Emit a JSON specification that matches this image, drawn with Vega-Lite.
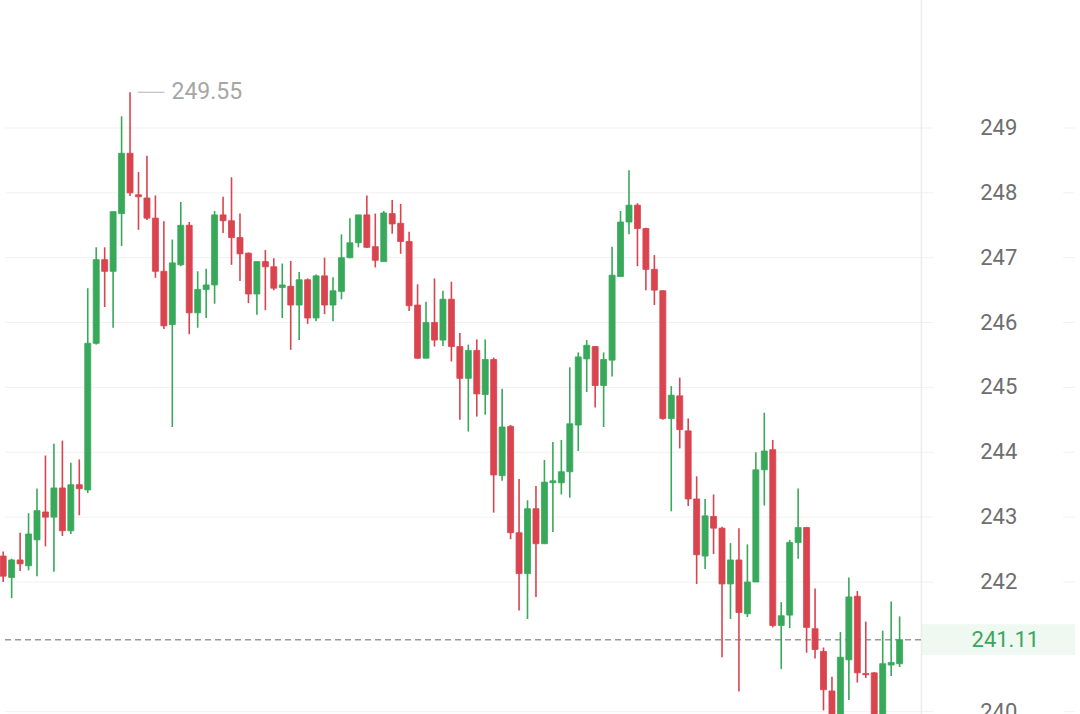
{
  "$schema": "https://vega.github.io/schema/vega-lite/v6.json",
  "width": 1080,
  "height": 714,
  "padding": 0,
  "autosize": {"type": "none"},
  "background": "white",
  "config": {"view": {"stroke": null}},
  "datasets": {
    "candles": [
      {"i":0,"o":242.40,"h":242.47,"l":242.00,"c":242.09},
      {"i":1,"o":242.07,"h":242.36,"l":241.75,"c":242.34},
      {"i":2,"o":242.34,"h":242.76,"l":242.17,"c":242.28},
      {"i":3,"o":242.25,"h":243.06,"l":242.18,"c":242.74},
      {"i":4,"o":242.65,"h":243.44,"l":242.09,"c":243.10},
      {"i":5,"o":243.08,"h":243.95,"l":242.55,"c":243.00},
      {"i":6,"o":243.00,"h":244.13,"l":242.16,"c":243.45},
      {"i":7,"o":243.45,"h":244.18,"l":242.71,"c":242.79},
      {"i":8,"o":242.79,"h":243.84,"l":242.74,"c":243.50},
      {"i":9,"o":243.50,"h":243.89,"l":243.03,"c":243.44},
      {"i":10,"o":243.42,"h":246.53,"l":243.37,"c":245.68},
      {"i":11,"o":245.68,"h":247.16,"l":245.66,"c":246.97},
      {"i":12,"o":246.97,"h":247.16,"l":246.24,"c":246.79},
      {"i":13,"o":246.79,"h":247.71,"l":245.92,"c":247.71},
      {"i":14,"o":247.68,"h":249.18,"l":247.18,"c":248.61},
      {"i":15,"o":248.61,"h":249.55,"l":247.95,"c":248.00},
      {"i":16,"o":247.97,"h":248.32,"l":247.43,"c":247.94},
      {"i":17,"o":247.92,"h":248.57,"l":247.58,"c":247.61},
      {"i":18,"o":247.61,"h":247.96,"l":246.69,"c":246.79},
      {"i":19,"o":246.79,"h":247.56,"l":245.90,"c":245.95},
      {"i":20,"o":245.97,"h":247.28,"l":244.39,"c":246.92},
      {"i":21,"o":246.89,"h":247.86,"l":246.87,"c":247.50},
      {"i":22,"o":247.50,"h":247.55,"l":245.82,"c":246.15},
      {"i":23,"o":246.15,"h":246.79,"l":245.92,"c":246.51},
      {"i":24,"o":246.51,"h":246.83,"l":246.07,"c":246.58},
      {"i":25,"o":246.58,"h":247.72,"l":246.29,"c":247.66},
      {"i":26,"o":247.66,"h":247.94,"l":247.38,"c":247.57},
      {"i":27,"o":247.57,"h":248.24,"l":246.89,"c":247.31},
      {"i":28,"o":247.31,"h":247.68,"l":246.64,"c":247.06},
      {"i":29,"o":247.07,"h":247.08,"l":246.30,"c":246.44},
      {"i":30,"o":246.44,"h":246.94,"l":246.12,"c":246.94},
      {"i":31,"o":246.94,"h":247.12,"l":246.19,"c":246.86},
      {"i":32,"o":246.86,"h":246.99,"l":246.50,"c":246.53},
      {"i":33,"o":246.54,"h":246.91,"l":246.07,"c":246.58},
      {"i":34,"o":246.56,"h":246.95,"l":245.58,"c":246.27},
      {"i":35,"o":246.27,"h":246.78,"l":245.73,"c":246.66},
      {"i":36,"o":246.66,"h":246.68,"l":245.98,"c":246.07},
      {"i":37,"o":246.07,"h":246.74,"l":246.02,"c":246.72},
      {"i":38,"o":246.72,"h":247.00,"l":246.13,"c":246.27},
      {"i":39,"o":246.27,"h":246.70,"l":246.02,"c":246.49},
      {"i":40,"o":246.48,"h":247.36,"l":246.36,"c":247.00},
      {"i":41,"o":247.00,"h":247.61,"l":246.99,"c":247.23},
      {"i":42,"o":247.23,"h":247.66,"l":247.16,"c":247.66},
      {"i":43,"o":247.66,"h":247.96,"l":247.15,"c":247.16},
      {"i":44,"o":247.17,"h":247.68,"l":246.85,"c":246.96},
      {"i":45,"o":246.94,"h":247.72,"l":246.94,"c":247.69},
      {"i":46,"o":247.68,"h":247.89,"l":247.37,"c":247.52},
      {"i":47,"o":247.53,"h":247.83,"l":247.06,"c":247.25},
      {"i":48,"o":247.25,"h":247.40,"l":246.18,"c":246.26},
      {"i":49,"o":246.27,"h":246.59,"l":245.44,"c":245.45},
      {"i":50,"o":245.45,"h":246.32,"l":245.45,"c":246.00},
      {"i":51,"o":246.00,"h":246.68,"l":245.63,"c":245.73},
      {"i":52,"o":245.73,"h":246.49,"l":245.64,"c":246.36},
      {"i":53,"o":246.36,"h":246.63,"l":245.40,"c":245.63},
      {"i":54,"o":245.63,"h":245.84,"l":244.50,"c":245.14},
      {"i":55,"o":245.14,"h":245.66,"l":244.32,"c":245.57},
      {"i":56,"o":245.57,"h":245.74,"l":244.55,"c":244.90},
      {"i":57,"o":244.89,"h":245.74,"l":244.58,"c":245.43},
      {"i":58,"o":245.43,"h":245.46,"l":243.07,"c":243.65},
      {"i":59,"o":243.64,"h":244.98,"l":243.56,"c":244.39},
      {"i":60,"o":244.40,"h":244.42,"l":242.66,"c":242.76},
      {"i":61,"o":242.76,"h":243.59,"l":241.56,"c":242.13},
      {"i":62,"o":242.13,"h":243.26,"l":241.43,"c":243.13},
      {"i":63,"o":243.13,"h":243.48,"l":241.77,"c":242.59},
      {"i":64,"o":242.59,"h":243.88,"l":242.59,"c":243.54},
      {"i":65,"o":243.53,"h":244.16,"l":242.77,"c":243.56},
      {"i":66,"o":243.53,"h":244.19,"l":243.35,"c":243.70},
      {"i":67,"o":243.70,"h":245.31,"l":243.30,"c":244.44},
      {"i":68,"o":244.42,"h":245.54,"l":244.02,"c":245.47},
      {"i":69,"o":245.44,"h":245.73,"l":244.93,"c":245.65},
      {"i":70,"o":245.63,"h":245.64,"l":244.69,"c":245.03},
      {"i":71,"o":245.03,"h":245.54,"l":244.39,"c":245.43},
      {"i":72,"o":245.42,"h":247.17,"l":245.17,"c":246.73},
      {"i":73,"o":246.71,"h":247.72,"l":246.71,"c":247.55},
      {"i":74,"o":247.55,"h":248.35,"l":247.36,"c":247.81},
      {"i":75,"o":247.81,"h":247.84,"l":246.87,"c":247.45},
      {"i":76,"o":247.45,"h":247.46,"l":246.50,"c":246.82},
      {"i":77,"o":246.82,"h":247.04,"l":246.27,"c":246.50},
      {"i":78,"o":246.49,"h":246.50,"l":244.50,"c":244.52},
      {"i":79,"o":244.52,"h":245.02,"l":243.09,"c":244.88},
      {"i":80,"o":244.87,"h":245.15,"l":244.06,"c":244.35},
      {"i":81,"o":244.33,"h":244.52,"l":243.17,"c":243.28},
      {"i":82,"o":243.28,"h":243.63,"l":241.97,"c":242.42},
      {"i":83,"o":242.40,"h":243.28,"l":242.20,"c":243.02},
      {"i":84,"o":243.01,"h":243.35,"l":242.43,"c":242.83},
      {"i":85,"o":242.83,"h":242.85,"l":240.84,"c":241.97},
      {"i":86,"o":241.97,"h":242.60,"l":241.43,"c":242.34},
      {"i":87,"o":242.34,"h":242.83,"l":240.31,"c":241.53},
      {"i":88,"o":241.51,"h":242.58,"l":241.46,"c":242.00},
      {"i":89,"o":242.00,"h":244.00,"l":242.00,"c":243.73},
      {"i":90,"o":243.73,"h":244.61,"l":243.18,"c":244.02},
      {"i":91,"o":244.04,"h":244.19,"l":241.30,"c":241.33},
      {"i":92,"o":241.33,"h":241.69,"l":240.66,"c":241.48},
      {"i":93,"o":241.49,"h":242.65,"l":241.29,"c":242.61},
      {"i":94,"o":242.61,"h":243.44,"l":242.36,"c":242.84},
      {"i":95,"o":242.84,"h":242.85,"l":240.91,"c":241.30},
      {"i":96,"o":241.28,"h":241.90,"l":240.82,"c":240.96},
      {"i":97,"o":240.93,"h":240.99,"l":240.02,"c":240.34},
      {"i":98,"o":240.32,"h":240.54,"l":239.80,"c":239.90},
      {"i":99,"o":239.85,"h":241.23,"l":239.75,"c":240.84},
      {"i":100,"o":240.80,"h":242.07,"l":240.18,"c":241.77},
      {"i":101,"o":241.78,"h":241.86,"l":240.45,"c":240.60},
      {"i":102,"o":240.59,"h":241.39,"l":240.52,"c":240.57},
      {"i":103,"o":240.60,"h":240.61,"l":239.80,"c":239.85},
      {"i":104,"o":239.90,"h":241.25,"l":239.85,"c":240.74},
      {"i":105,"o":240.72,"h":241.70,"l":240.55,"c":240.76},
      {"i":106,"o":240.74,"h":241.47,"l":240.69,"c":241.11}
    ],
    "ticks": [
      {"v":240},{"v":242},{"v":243},{"v":244},{"v":245},{"v":246},{"v":247},{"v":248},{"v":249}
    ],
    "last": [{"price":241.11,"label":"241.11"}],
    "peak": [{"price":249.55,"label":"249.55"}]
  },
  "resolve": {"scale": {"x": "shared", "y": "shared"}},
  "layer": [
    {
      "data": {"name": "ticks"},
      "mark": {"type": "rule", "stroke": "#f1f1f1", "strokeWidth": 1},
      "encoding": {
        "y": {"field": "v", "type": "quantitative", "scale": {"domain": [239.965, 250.973], "nice": false, "zero": false}, "axis": null},
        "x": {"datum": 0.2151, "type": "quantitative", "scale": {"domain": [0.2151, 126.738], "nice": false, "zero": false}, "axis": null},
        "x2": {"datum": 109.99}
      }
    },
    {
      "data": {"name": "ticks"},
      "mark": {"type": "rule", "stroke": "#f1f1f1", "strokeWidth": 1},
      "encoding": {
        "y": {"field": "v", "type": "quantitative", "axis": null},
        "x": {"datum": 125.33, "type": "quantitative", "axis": null},
        "x2": {"datum": 126.738}
      }
    },
    {
      "data": {"name": "last"},
      "mark": {"type": "rect", "fill": "#eff8f1"},
      "encoding": {
        "x": {"datum": 108.58, "type": "quantitative", "axis": null},
        "x2": {"datum": 126.738},
        "y": {"datum": 241.35, "type": "quantitative", "axis": null},
        "y2": {"datum": 240.875}
      }
    },
    {
      "data": {"name": "last"},
      "mark": {"type": "rule", "stroke": "#ececec", "strokeWidth": 1.5},
      "encoding": {
        "x": {"datum": 108.58, "type": "quantitative", "axis": null}
      }
    },
    {
      "data": {"name": "last"},
      "mark": {"type": "rule", "stroke": "#9a9a9a", "strokeWidth": 1.3, "strokeDash": [6, 4]},
      "encoding": {
        "y": {"field": "price", "type": "quantitative", "axis": null},
        "x": {"datum": 0.2151, "type": "quantitative", "axis": null},
        "x2": {"datum": 108.9}
      }
    },
    {
      "data": {"name": "candles"},
      "mark": {"type": "rule", "strokeWidth": 1.6, "clip": true},
      "encoding": {
        "x": {"field": "i", "type": "quantitative", "axis": null},
        "y": {"field": "l", "type": "quantitative", "axis": null},
        "y2": {"field": "h"},
        "color": {"condition": {"test": "datum.c < datum.o", "value": "#d9444f"}, "value": "#38a85a"}
      }
    },
    {
      "data": {"name": "candles"},
      "mark": {"type": "bar", "size": 6, "clip": true, "strokeWidth": 0.8},
      "encoding": {
        "x": {"field": "i", "type": "quantitative", "axis": null},
        "y": {"field": "o", "type": "quantitative", "axis": null},
        "y2": {"field": "c"},
        "color": {"condition": {"test": "datum.c < datum.o", "value": "#d9444f"}, "value": "#38a85a"},
        "stroke": {"condition": {"test": "datum.c < datum.o", "value": "#d9444f"}, "value": "#38a85a"}
      }
    },
    {
      "data": {"name": "ticks"},
      "mark": {"type": "text", "font": "Roboto", "fontSize": 22, "fill": "#6e6e6e", "align": "center", "baseline": "middle"},
      "encoding": {
        "y": {"field": "v", "type": "quantitative", "axis": null},
        "x": {"datum": 117.72, "type": "quantitative", "axis": null},
        "text": {"field": "v", "type": "nominal"}
      }
    },
    {
      "data": {"name": "last"},
      "mark": {"type": "text", "font": "Roboto", "fontSize": 22, "fill": "#3aa65c", "align": "center", "baseline": "middle"},
      "encoding": {
        "y": {"field": "price", "type": "quantitative", "axis": null},
        "x": {"datum": 118.5, "type": "quantitative", "axis": null},
        "text": {"field": "label", "type": "nominal"}
      }
    },
    {
      "data": {"name": "peak"},
      "mark": {"type": "rule", "stroke": "#c4c4c4", "strokeWidth": 1.3},
      "encoding": {
        "y": {"field": "price", "type": "quantitative", "axis": null},
        "x": {"datum": 15.91, "type": "quantitative", "axis": null},
        "x2": {"datum": 19.08}
      }
    },
    {
      "data": {"name": "peak"},
      "mark": {"type": "text", "font": "Roboto", "fontSize": 23, "fill": "#a6a6a6", "align": "left", "baseline": "middle"},
      "encoding": {
        "y": {"field": "price", "type": "quantitative", "axis": null},
        "x": {"datum": 19.9, "type": "quantitative", "axis": null},
        "text": {"field": "label", "type": "nominal"}
      }
    }
  ]
}
